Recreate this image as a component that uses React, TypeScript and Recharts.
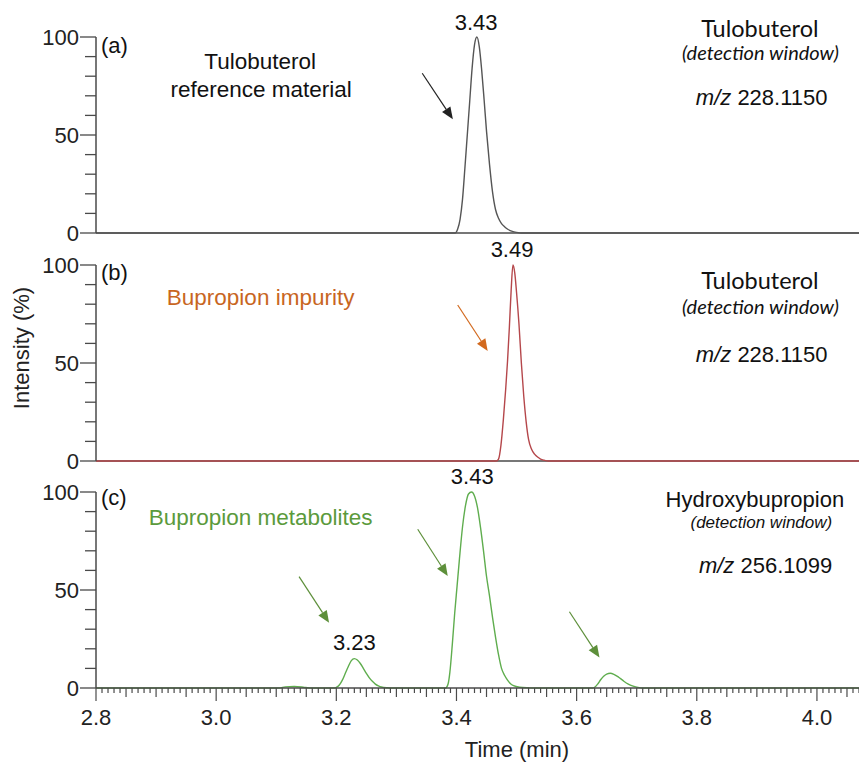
import React from "react";
import { LineChart, Line, XAxis, YAxis, ReferenceLine, ReferenceDot } from "recharts";

const X_DOMAIN = [2.8, 4.07];
const X_LABELS = [2.8, 3.0, 3.2, 3.4, 3.6, 3.8, 4.0];
const Y_TICKS = [0, 10, 20, 30, 40, 50, 60, 70, 80, 90, 100];
const Y_LABELS = [0, 50, 100];

// (a) tulobuterol reference material, m/z 228.1150
const TIME_A = [2.8, 3.398, 3.402, 3.406, 3.41, 3.414, 3.418, 3.422, 3.426, 3.43, 3.434, 3.438, 3.442, 3.446, 3.45, 3.455, 3.46, 3.465, 3.47, 3.475, 3.48, 3.486, 3.493, 3.5, 3.508, 4.07];
const INT_A = [0, 0, 2, 7, 17, 33, 50, 67, 84, 96, 100, 95, 83, 68, 52, 35, 21, 12, 7.5, 4.8, 3.2, 1.8, 0.8, 0.3, 0, 0];

// (b) bupropion impurity, m/z 228.1150
const TIME_B = [2.8, 3.466, 3.47, 3.474, 3.478, 3.482, 3.485, 3.488, 3.491, 3.494, 3.497, 3.5, 3.504, 3.508, 3.512, 3.516, 3.52, 3.525, 3.53, 3.535, 3.54, 3.546, 3.553, 4.07];
const INT_B = [0, 0, 1, 8, 21, 37, 51, 68, 87, 100, 96, 86, 70, 50, 33, 20, 11, 6, 3.5, 2, 1, 0.4, 0, 0];

// (c) bupropion metabolites, m/z 256.1099
const TIME_C = [
  2.8, 3.105, 3.115, 3.13, 3.145, 3.155,
  3.197, 3.2, 3.205, 3.21, 3.215, 3.22, 3.225, 3.23, 3.235, 3.24, 3.245, 3.25, 3.255, 3.26, 3.265, 3.27, 3.275, 3.285, 3.292,
  3.382, 3.386, 3.389, 3.393, 3.397, 3.401, 3.405, 3.41, 3.415, 3.42, 3.425, 3.43, 3.435, 3.44, 3.445, 3.45, 3.455, 3.46, 3.465, 3.47, 3.475, 3.48, 3.485, 3.49, 3.495, 3.505, 3.52, 3.53,
  3.626, 3.63, 3.635, 3.64, 3.645, 3.65, 3.656, 3.662, 3.67, 3.678, 3.686, 3.694, 3.702, 3.71, 4.07,
];
const INT_C = [
  0, 0, 0.6, 0.8, 0.4, 0,
  0, 0.3, 1.5, 4, 7.5, 11, 14, 15, 14.3, 12.5, 10, 7.5, 5.2, 3.4, 2, 1.1, 0.5, 0.1, 0,
  0, 2, 8, 22, 38, 52, 66, 82, 93, 99, 100, 98, 92, 82, 70, 57, 47, 36, 26, 17, 10, 6.5, 4, 2.2, 1.2, 0.4, 0.1, 0,
  0, 0.4, 2, 4.2, 6, 7.1, 7.5, 7, 5.5, 3.6, 2, 1, 0.3, 0, 0,
];

const toRows = (ts: number[], vs: number[]) => ts.map((t, i) => ({ t, v: vs[i] }));

const X_TICKS = Array.from({ length: 128 }, (_, i) => Math.round(280 + i) / 100);

const AXIS = "#4a4a4a";
const ARIAL = 'Arial, "Liberation Sans", sans-serif';
const CALIBRI = 'Lato, "Open Sans", sans-serif';
const ORANGE = "#c8661f";
const GREEN = "#5b9a3c";

type Part = { text: string; italic?: boolean };
type Note = { t: number; v: number; parts: Part[]; size: number; color?: string; anchor?: string; family?: string };
type Arrow = { from: [number, number]; to: [number, number]; color: string };

const mz = (value: string): Part[] => [{ text: "m/z", italic: true }, { text: " " + value }];

const NOTES_A: Note[] = [
  { t: 2.8083, v: 91.8, parts: [{ text: "(a)" }], size: 22, anchor: "start" },
  { t: 3.0733, v: 83.7, parts: [{ text: "Tulobuterol" }], size: 22.5 },
  { t: 3.075, v: 69.4, parts: [{ text: "reference material" }], size: 22.5 },
  { t: 3.4328, v: 103.6, parts: [{ text: "3.43" }], size: 22 },
  { t: 3.905, v: 99.8, parts: [{ text: "Tulobuterol" }], size: 23.5, family: CALIBRI },
  { t: 3.906, v: 88.3, parts: [{ text: "(detection window)", italic: true }], size: 20, family: CALIBRI },
  { t: 3.908, v: 65.3, parts: mz("228.1150"), size: 22 },
];

const NOTES_B: Note[] = [
  { t: 2.8083, v: 92.3, parts: [{ text: "(b)" }], size: 22, anchor: "start" },
  { t: 3.074, v: 79.6, parts: [{ text: "Bupropion impurity" }], size: 22.5, color: ORANGE },
  { t: 3.4925, v: 104.2, parts: [{ text: "3.49" }], size: 22 },
  { t: 3.905, v: 87.8, parts: [{ text: "Tulobuterol" }], size: 23.5, family: CALIBRI },
  { t: 3.906, v: 75.0, parts: [{ text: "(detection window)", italic: true }], size: 20, family: CALIBRI },
  { t: 3.908, v: 50.5, parts: mz("228.1150"), size: 22 },
];

const NOTES_C: Note[] = [
  { t: 2.8083, v: 93.4, parts: [{ text: "(c)" }], size: 22, anchor: "start" },
  { t: 3.074, v: 83.2, parts: [{ text: "Bupropion metabolites" }], size: 22.5, color: GREEN },
  { t: 3.4263, v: 104.1, parts: [{ text: "3.43" }], size: 22 },
  { t: 3.23, v: 19.4, parts: [{ text: "3.23" }], size: 22 },
  { t: 3.8967, v: 92.3, parts: [{ text: "Hydroxybupropion" }], size: 22 },
  { t: 3.9075, v: 81.6, parts: [{ text: "(detection window)", italic: true }], size: 17 },
  { t: 3.9145, v: 58.7, parts: mz("256.1099"), size: 22 },
];

const ARROWS_A: Arrow[] = [{ from: [3.343, 81.5], to: [3.394, 58], color: "#222" }];
const ARROWS_B: Arrow[] = [{ from: [3.402, 79.6], to: [3.452, 56.1], color: "#d2691e" }];
const ARROWS_C: Arrow[] = [
  { from: [3.138, 56.8], to: [3.188, 33.3], color: "#5d8f3a" },
  { from: [3.3355, 81], to: [3.3855, 57.1], color: "#5d8f3a" },
  { from: [3.588, 38.9], to: [3.638, 15.5], color: "#5d8f3a" },
];

function YTick(props: any) {
  const { x, y, payload } = props;
  const major = Y_LABELS.includes(payload.value);
  return (
    <g>
      <line x1={x - (major ? 16 : 11)} x2={x} y1={y} y2={y} stroke={AXIS} strokeWidth={1.3} />
      {major && (
        <text x={x - 17} y={y} dy="0.36em" textAnchor="end" fontFamily={ARIAL} fontSize={22} fill="#222">
          {payload.value}
        </text>
      )}
    </g>
  );
}

function XTick(props: any) {
  const { x, y, payload } = props;
  const i = Math.round((payload.value - 2.8) * 100);
  const len = i % 20 === 0 ? 13 : i % 5 === 0 ? 9 : 5;
  const label = X_LABELS.find((l) => Math.abs(l - payload.value) < 1e-6);
  return (
    <g>
      <line x1={x} x2={x} y1={y} y2={y + len} stroke={AXIS} strokeWidth={1.2} />
      {label !== undefined && (
        <text x={x} y={y + 37} textAnchor="middle" fontFamily={ARIAL} fontSize={22} fill="#222">
          {label.toFixed(1)}
        </text>
      )}
    </g>
  );
}

const arrowShape = (color: string) => (p: any) => {
  const { x1, y1, x2, y2 } = p;
  const a = Math.atan2(y2 - y1, x2 - x1);
  const L = 12;
  const W = 5;
  const bx = x2 - L * Math.cos(a);
  const by = y2 - L * Math.sin(a);
  const pts = `${x2},${y2} ${bx + W * Math.sin(a)},${by - W * Math.cos(a)} ${bx - W * Math.sin(a)},${by + W * Math.cos(a)}`;
  return (
    <g>
      <line x1={x1} y1={y1} x2={bx} y2={by} stroke={color} strokeWidth={1.2} />
      <polygon points={pts} fill={color} />
    </g>
  );
};

const noteShape = (n: Note) => (p: any) => (
  <text
    x={p.cx}
    y={p.cy}
    textAnchor={n.anchor || "middle"}
    fontFamily={n.family || ARIAL}
    fontSize={n.size}
    fill={n.color || "#111"}
  >
    {n.parts.map((part, i) => (
      <tspan key={i} fontStyle={part.italic ? "italic" : "normal"}>
        {part.text}
      </tspan>
    ))}
  </text>
);

interface PanelProps {
  top: number;
  height: number;
  marginTop: number;
  data: { t: number; v: number }[];
  color: string;
  notes: Note[];
  arrows: Arrow[];
  showX?: boolean;
}

function Panel({ top, height, marginTop, data, color, notes, arrows, showX }: PanelProps) {
  const plotH = 196;
  const xH = 74;
  return (
    <div style={{ position: "absolute", left: 0, top }}>
      <LineChart
        width={859}
        height={height}
        data={data}
        margin={{ top: marginTop, right: 0, left: 0, bottom: showX ? height - marginTop - plotH - xH : height - marginTop - plotH }}
      >
        <XAxis
          type="number"
          dataKey="t"
          domain={X_DOMAIN}
          hide={!showX}
          ticks={X_TICKS}
          interval={0}
          tickSize={0}
          tickMargin={0}
          tickLine={false}
          axisLine={{ stroke: AXIS, strokeWidth: 1.5 }}
          height={xH}
          tick={<XTick />}
        />
        <YAxis
          type="number"
          domain={[0, 100]}
          ticks={Y_TICKS}
          interval={0}
          width={96}
          tickSize={0}
          tickMargin={0}
          tickLine={false}
          axisLine={{ stroke: AXIS, strokeWidth: 1.5 }}
          tick={<YTick />}
        />
        {!showX && <ReferenceLine y={0} stroke={AXIS} strokeWidth={1.5} />}
        <Line type="monotone" dataKey="v" stroke={color} strokeWidth={1.4} dot={false} isAnimationActive={false} />
        {arrows.map((a, i) => (
          <ReferenceLine
            key={`arrow-${i}`}
            segment={[{ x: a.from[0], y: a.from[1] }, { x: a.to[0], y: a.to[1] }]}
            shape={arrowShape(a.color)}
            ifOverflow="visible"
          />
        ))}
        {notes.map((n, i) => (
          <ReferenceDot key={`note-${i}`} x={n.t} y={n.v} r={0} ifOverflow="visible" shape={noteShape(n)} />
        ))}
      </LineChart>
    </div>
  );
}

export default function App() {
  return (
    <div style={{ position: "absolute", left: 0, top: 0, width: 859, height: 762, background: "#fff", overflow: "hidden" }}>
      <Panel top={0} height={250} marginTop={37} data={toRows(TIME_A, INT_A)} color="#555" notes={NOTES_A} arrows={ARROWS_A} />
      <Panel top={232} height={246} marginTop={33} data={toRows(TIME_B, INT_B)} color="#b5474b" notes={NOTES_B} arrows={ARROWS_B} />
      <Panel top={462} height={300} marginTop={30} data={toRows(TIME_C, INT_C)} color="#5fad4e" notes={NOTES_C} arrows={ARROWS_C} showX />
      <svg style={{ position: "absolute", left: 0, top: 0 }} width={60} height={762}>
        <text x={29} y={348} transform="rotate(-90 29 348)" textAnchor="middle" fontFamily={ARIAL} fontSize={22} fill="#222">
          Intensity (%)
        </text>
      </svg>
      <svg style={{ position: "absolute", left: 0, top: 0 }} width={859} height={762} pointerEvents="none">
        <text x={517} y={757} textAnchor="middle" fontFamily={ARIAL} fontSize={22} fill="#222">
          Time (min)
        </text>
      </svg>
    </div>
  );
}
